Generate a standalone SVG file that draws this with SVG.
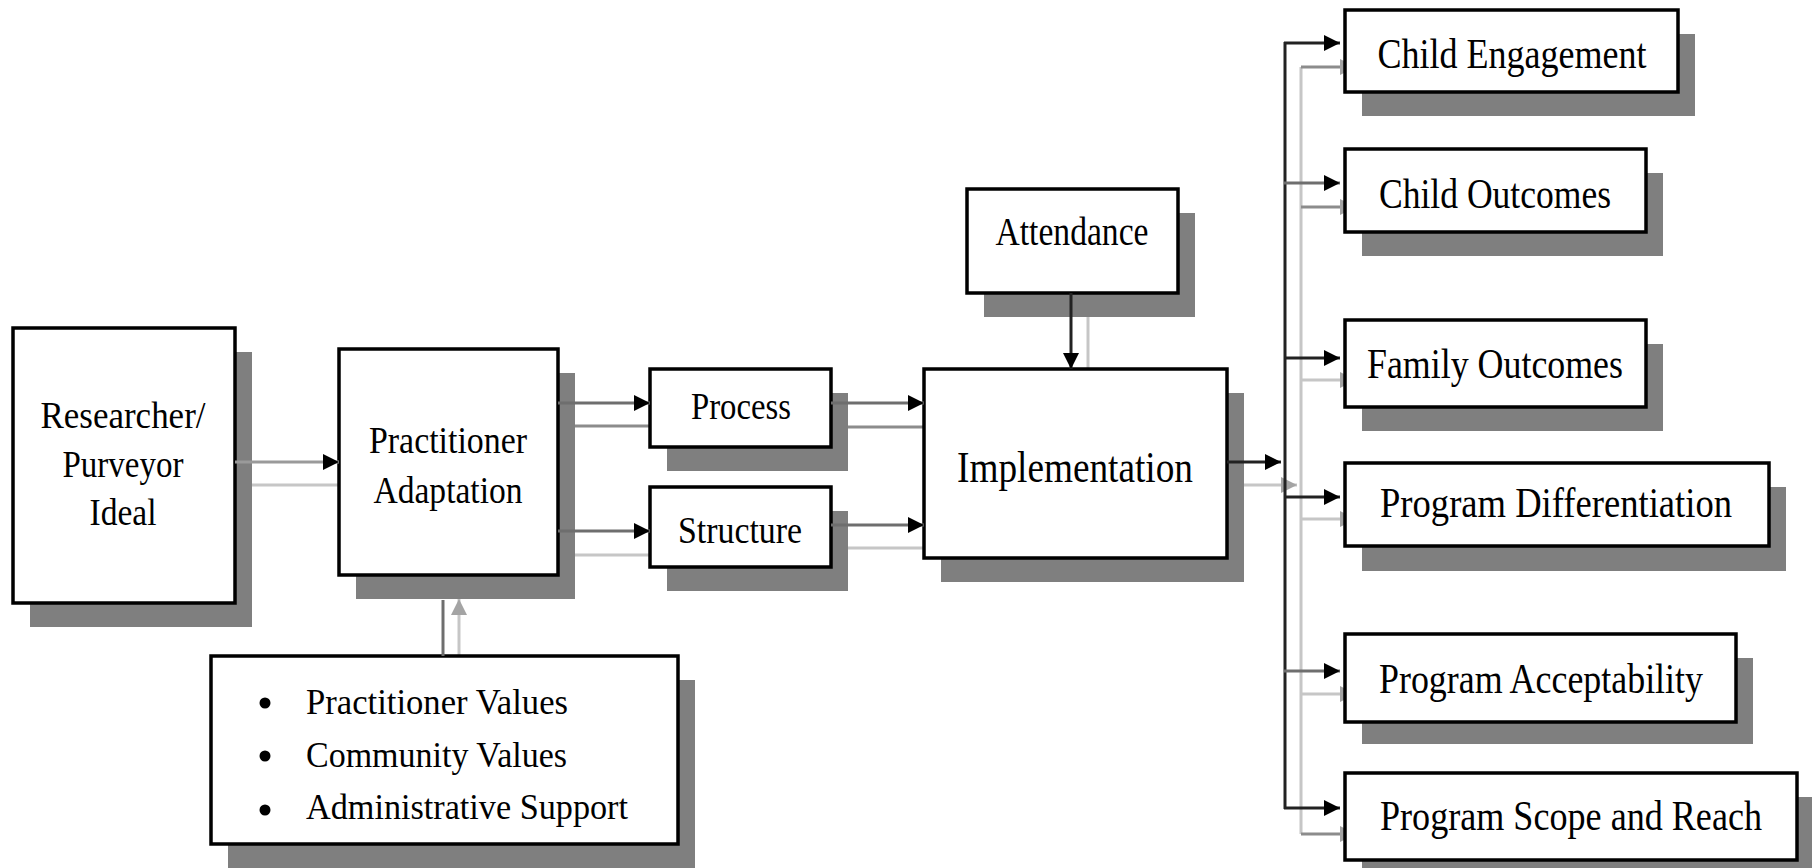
<svg xmlns="http://www.w3.org/2000/svg" width="1812" height="868" viewBox="0 0 1812 868">
<style>
.bg{fill:#fff}
.box{fill:#fff;stroke:#000;stroke-width:3.5}
.shd{fill:#7f7f7f}
.t{font-family:"Liberation Serif","Times New Roman",serif;fill:#000;text-anchor:middle}
.tl{font-family:"Liberation Serif","Times New Roman",serif;fill:#000;text-anchor:start}
.m{fill:none;stroke-width:3}
.dk{stroke:#222}
.md{stroke:#6e6e6e}
.lt{stroke:#9a9a9a}
.s{fill:none;stroke-width:3;stroke:#c6c6c6}
.s2{fill:none;stroke-width:3;stroke:#8c8c8c}
</style>
<defs>
<marker id="ah" markerUnits="userSpaceOnUse" markerWidth="17" markerHeight="17" refX="16" refY="8" orient="auto" overflow="visible">
<path d="M0,0 L16,8 L0,16 z" fill="#000"/>
</marker>
<marker id="ahs" markerUnits="userSpaceOnUse" markerWidth="17" markerHeight="17" refX="16" refY="8" orient="auto" overflow="visible">
<path d="M0,0 L16,8 L0,16 z" fill="#a4a4a4"/>
</marker>
</defs>
<rect class="bg" x="0" y="0" width="1812" height="868"/>

<g id="connector-shadows">
<line class="s" x1="252" y1="485" x2="356" y2="485" marker-end="url(#ahs)"/>
<line class="s2" x1="575" y1="426" x2="667" y2="426" marker-end="url(#ahs)"/>
<line class="s" x1="575" y1="555" x2="667" y2="555" marker-end="url(#ahs)"/>
<line class="s2" x1="848" y1="427" x2="941" y2="427" marker-end="url(#ahs)"/>
<line class="s" x1="848" y1="548" x2="941" y2="548" marker-end="url(#ahs)"/>
<line class="s" x1="1088" y1="317" x2="1088" y2="393" marker-end="url(#ahs)"/>
<line class="s" x1="459" y1="680" x2="459" y2="599" marker-end="url(#ahs)"/>
<line class="s" x1="1244" y1="485" x2="1297" y2="485" marker-end="url(#ahs)"/>
<line class="s" x1="1301" y1="67" x2="1301" y2="834"/>
<line class="s2" x1="1301" y1="67" x2="1356" y2="67" marker-end="url(#ahs)"/>
<line class="s2" x1="1301" y1="207" x2="1356" y2="207" marker-end="url(#ahs)"/>
<line class="s" x1="1301" y1="380" x2="1356" y2="380" marker-end="url(#ahs)"/>
<line class="s" x1="1301" y1="519" x2="1356" y2="519" marker-end="url(#ahs)"/>
<line class="s" x1="1301" y1="694" x2="1356" y2="694" marker-end="url(#ahs)"/>
<line class="s2" x1="1301" y1="834" x2="1356" y2="834" marker-end="url(#ahs)"/>
</g>

<g id="researcher">
<rect class="shd" x="30" y="352" width="222" height="275"/>
<rect class="box" x="13" y="328" width="222" height="275"/>
<text class="t" x="123" y="428" font-size="38" textLength="165" lengthAdjust="spacingAndGlyphs">Researcher/</text>
<text class="t" x="123" y="477" font-size="38" textLength="121" lengthAdjust="spacingAndGlyphs">Purveyor</text>
<text class="t" x="123" y="525" font-size="38" textLength="67" lengthAdjust="spacingAndGlyphs">Ideal</text>
</g>

<g id="practitioner-adaptation">
<rect class="shd" x="356" y="373" width="219" height="226"/>
<rect class="box" x="339" y="349" width="219" height="226"/>
<text class="t" x="448" y="453" font-size="38" textLength="158" lengthAdjust="spacingAndGlyphs">Practitioner</text>
<text class="t" x="448" y="503" font-size="38" textLength="149" lengthAdjust="spacingAndGlyphs">Adaptation</text>
</g>

<g id="process">
<rect class="shd" x="667" y="393" width="181" height="78"/>
<rect class="box" x="650" y="369" width="181" height="78"/>
<text class="t" x="741" y="419" font-size="38" textLength="100" lengthAdjust="spacingAndGlyphs">Process</text>
</g>

<g id="structure">
<rect class="shd" x="667" y="511" width="181" height="80"/>
<rect class="box" x="650" y="487" width="181" height="80"/>
<text class="t" x="740" y="543" font-size="38" textLength="124" lengthAdjust="spacingAndGlyphs">Structure</text>
</g>

<g id="attendance">
<rect class="shd" x="984" y="213" width="211" height="104"/>
<rect class="box" x="967" y="189" width="211" height="104"/>
<text class="t" x="1072" y="245" font-size="40" textLength="153" lengthAdjust="spacingAndGlyphs">Attendance</text>
</g>

<g id="implementation">
<rect class="shd" x="941" y="393" width="303" height="189"/>
<rect class="box" x="924" y="369" width="303" height="189"/>
<text class="t" x="1075" y="482" font-size="45" textLength="236" lengthAdjust="spacingAndGlyphs">Implementation</text>
</g>

<g id="factors">
<rect class="shd" x="228" y="680" width="467" height="188"/>
<rect class="box" x="211" y="656" width="467" height="188"/>
<circle cx="265" cy="703" r="5.5" fill="#000"/>
<circle cx="265" cy="756" r="5.5" fill="#000"/>
<circle cx="265" cy="810" r="5.5" fill="#000"/>
<text class="tl" x="306" y="714" font-size="36" textLength="262" lengthAdjust="spacingAndGlyphs">Practitioner Values</text>
<text class="tl" x="306" y="767" font-size="36" textLength="261" lengthAdjust="spacingAndGlyphs">Community Values</text>
<text class="tl" x="306" y="819" font-size="36" textLength="322" lengthAdjust="spacingAndGlyphs">Administrative Support</text>
</g>

<g id="child-engagement">
<rect class="shd" x="1362" y="34" width="333" height="82"/>
<rect class="box" x="1345" y="10" width="333" height="82"/>
<text class="t" x="1512" y="68" font-size="42" textLength="269" lengthAdjust="spacingAndGlyphs">Child Engagement</text>
</g>

<g id="child-outcomes">
<rect class="shd" x="1362" y="173" width="301" height="83"/>
<rect class="box" x="1345" y="149" width="301" height="83"/>
<text class="t" x="1495" y="208" font-size="42" textLength="232" lengthAdjust="spacingAndGlyphs">Child Outcomes</text>
</g>

<g id="family-outcomes">
<rect class="shd" x="1362" y="344" width="301" height="87"/>
<rect class="box" x="1345" y="320" width="301" height="87"/>
<text class="t" x="1495" y="378" font-size="42" textLength="256" lengthAdjust="spacingAndGlyphs">Family Outcomes</text>
</g>

<g id="program-differentiation">
<rect class="shd" x="1362" y="487" width="424" height="84"/>
<rect class="box" x="1345" y="463" width="424" height="83"/>
<text class="t" x="1556" y="517" font-size="42" textLength="352" lengthAdjust="spacingAndGlyphs">Program Differentiation</text>
</g>

<g id="program-acceptability">
<rect class="shd" x="1362" y="658" width="391" height="86"/>
<rect class="box" x="1345" y="634" width="391" height="88"/>
<text class="t" x="1541" y="693" font-size="42" textLength="324" lengthAdjust="spacingAndGlyphs">Program Acceptability</text>
</g>

<g id="program-scope-and-reach">
<rect class="shd" x="1362" y="797" width="452" height="87"/>
<rect class="box" x="1345" y="773" width="452" height="87"/>
<text class="t" x="1571" y="830" font-size="42" textLength="382" lengthAdjust="spacingAndGlyphs">Program Scope and Reach</text>
</g>

<g id="connectors">
<line class="m lt" x1="235" y1="462" x2="339" y2="462" marker-end="url(#ah)"/>
<line class="m md" x1="558" y1="403" x2="650" y2="403" marker-end="url(#ah)"/>
<line class="m md" x1="558" y1="531" x2="650" y2="531" marker-end="url(#ah)"/>
<line class="m md" x1="831" y1="403" x2="924" y2="403" marker-end="url(#ah)"/>
<line class="m md" x1="831" y1="525" x2="924" y2="525" marker-end="url(#ah)"/>
<line class="m dk" x1="1071" y1="293" x2="1071" y2="369" marker-end="url(#ah)"/>
<line class="m md" x1="443" y1="656" x2="443" y2="600"/>
<line class="m dk" x1="1227" y1="462" x2="1281" y2="462" marker-end="url(#ah)"/>
<line class="m dk" x1="1285" y1="42" x2="1285" y2="809"/>
<line class="m dk" x1="1284" y1="43" x2="1340" y2="43" marker-end="url(#ah)"/>
<line class="m md" x1="1284" y1="183" x2="1340" y2="183" marker-end="url(#ah)"/>
<line class="m dk" x1="1284" y1="358" x2="1340" y2="358" marker-end="url(#ah)"/>
<line class="m dk" x1="1284" y1="497" x2="1340" y2="497" marker-end="url(#ah)"/>
<line class="m md" x1="1284" y1="671" x2="1340" y2="671" marker-end="url(#ah)"/>
<line class="m dk" x1="1284" y1="808" x2="1340" y2="808" marker-end="url(#ah)"/>
</g>
</svg>
